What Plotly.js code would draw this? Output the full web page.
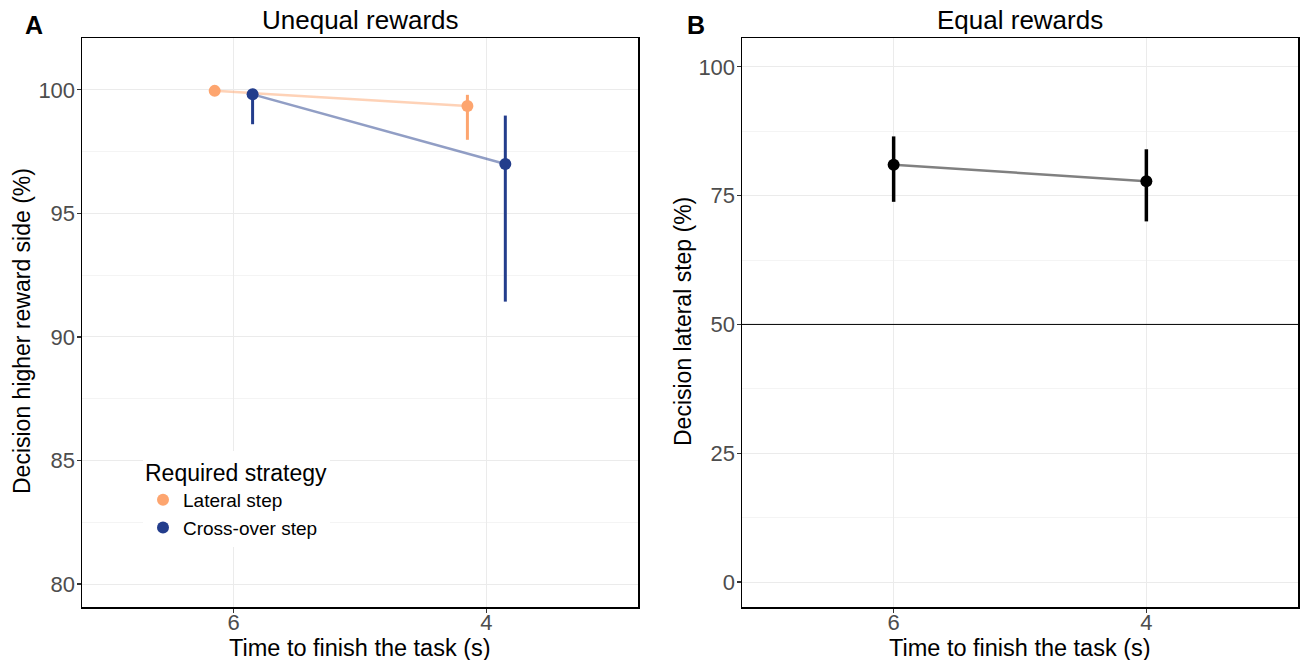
<!DOCTYPE html>
<html><head><meta charset="utf-8">
<script src="https://cdn.plot.ly/plotly-3.0.1.min.js"></script>
<style>html,body{margin:0;padding:0;background:#fff}#plot{width:1302px;height:660px}</style>
</head><body><div id="plot"></div>
<script>
// Tick labels / categories
const timeLabels = ["6", "4"];
const timePos = [1, 2];
const dodge = 0.075;

// Panel A: Unequal rewards
const lateralMean = [99.96, 99.35];
const lateralLow = [99.85, 97.98];
const lateralHigh = [100.0, 99.8];
const crossMean = [99.82, 97.0];
const crossLow = [98.61, 91.43];
const crossHigh = [99.85, 98.96];

// Panel B: Equal rewards
const equalMean = [81.0, 77.8];
const equalLow = [73.8, 70.0];
const equalHigh = [86.5, 84.0];

const plus = (m, h) => h.map((v, i) => v - m[i]);
const minus = (m, l) => m.map((v, i) => v - l[i]);

const lateralX = timePos.map(p => p - dodge);
const crossX = timePos.map(p => p + dodge);

const cLat = '#FDA56F', cLatLine = 'rgba(253,165,111,0.5)';
const cCross = '#233D8C', cCrossLine = 'rgba(35,61,140,0.5)';

const traces = [
  {x: lateralX, y: lateralMean, mode: 'lines', line: {color: cLatLine, width: 2.5}, showlegend: false, hoverinfo: 'skip', xaxis: 'x', yaxis: 'y'},
  {x: crossX, y: crossMean, mode: 'lines', line: {color: cCrossLine, width: 2.5}, showlegend: false, hoverinfo: 'skip', xaxis: 'x', yaxis: 'y'},
  {x: lateralX, y: lateralMean, mode: 'markers', name: 'Lateral step', marker: {color: cLat, size: 12},
   error_y: {type: 'data', symmetric: false, array: plus(lateralMean, lateralHigh), arrayminus: minus(lateralMean, lateralLow), color: cLat, thickness: 3, width: 0},
   xaxis: 'x', yaxis: 'y'},
  {x: crossX, y: crossMean, mode: 'markers', name: 'Cross-over step', marker: {color: cCross, size: 12},
   error_y: {type: 'data', symmetric: false, array: plus(crossMean, crossHigh), arrayminus: minus(crossMean, crossLow), color: cCross, thickness: 3, width: 0},
   xaxis: 'x', yaxis: 'y'},
  {x: timePos, y: equalMean, mode: 'lines', line: {color: '#808080', width: 2.5}, showlegend: false, hoverinfo: 'skip', xaxis: 'x2', yaxis: 'y2'},
  {x: timePos, y: equalMean, mode: 'markers', showlegend: false, marker: {color: '#000000', size: 12},
   error_y: {type: 'data', symmetric: false, array: plus(equalMean, equalHigh), arrayminus: minus(equalMean, equalLow), color: '#000000', thickness: 3.5, width: 0},
   xaxis: 'x2', yaxis: 'y2'}
];

const W = 1302, H = 660;
const px = v => v / W, py = v => 1 - v / H;
const font = 'Liberation Sans, Arial, sans-serif';

const axBase = {
  showline: true, linecolor: '#000', linewidth: 1.5, mirror: true,
  ticks: 'outside', ticklen: 4, tickcolor: '#333', tickwidth: 1.2,
  tickfont: {family: font, size: 22, color: '#4D4D4D'},
  showgrid: true, gridcolor: '#EBEBEB', gridwidth: 1, zeroline: false, automargin: false
};

const xBase = Object.assign({}, axBase, {range: [0.4, 2.6], tickvals: timePos, ticktext: timeLabels, ticklabelstandoff: -9});

const layout = {
  width: W, height: H,
  margin: {l: 0, r: 0, t: 0, b: 0},
  paper_bgcolor: '#fff', plot_bgcolor: '#fff',
  font: {family: font},
  showlegend: true,
  legend: {x: px(143), y: py(451), xanchor: 'left', yanchor: 'top', bgcolor: '#fff',
    title: {text: 'Required strategy', font: {size: 23, color: '#000', family: font}},
    font: {size: 19, color: '#000', family: font}, tracegroupgap: 0, itemsizing: 'constant'},
  xaxis: Object.assign({}, xBase, {domain: [px(82), px(638)], anchor: 'y'}),
  yaxis: Object.assign({}, axBase, {domain: [py(607), py(38)], range: [79.07, 102.1], tickvals: [80, 85, 90, 95, 100], anchor: 'x', ticklabelstandoff: -3,
    minor: {showgrid: true, tickvals: [82.5, 87.5, 92.5, 97.5], gridcolor: '#F4F4F4', ticks: ''}}),
  xaxis2: Object.assign({}, xBase, {domain: [px(742), px(1298)], anchor: 'y2'}),
  yaxis2: Object.assign({}, axBase, {domain: [py(607), py(38)], range: [-4.85, 105.6], tickvals: [0, 25, 50, 75, 100], anchor: 'x2', ticklabelstandoff: -3,
    minor: {showgrid: true, tickvals: [12.5, 37.5, 62.5, 87.5], gridcolor: '#F4F4F4', ticks: ''}}),
  shapes: [
    {type: 'line', xref: 'x2 domain', yref: 'y2', x0: 0, x1: 1, y0: 50, y1: 50, line: {color: '#000', width: 1}}
  ],
  annotations: [
    {text: 'Unequal rewards', x: px(360), y: py(20), xref: 'paper', yref: 'paper', showarrow: false, font: {size: 26, color: '#000'}, xanchor: 'center', yanchor: 'middle'},
    {text: 'Equal rewards', x: px(1020), y: py(20), xref: 'paper', yref: 'paper', showarrow: false, font: {size: 26, color: '#000'}, xanchor: 'center', yanchor: 'middle'},
    {text: '<b>A</b>', x: px(34), y: py(25), xref: 'paper', yref: 'paper', showarrow: false, font: {size: 25, color: '#000'}, xanchor: 'center', yanchor: 'middle'},
    {text: '<b>B</b>', x: px(696), y: py(25), xref: 'paper', yref: 'paper', showarrow: false, font: {size: 25, color: '#000'}, xanchor: 'center', yanchor: 'middle'},
    {text: 'Time to finish the task (s)', x: px(360), y: py(648), xref: 'paper', yref: 'paper', showarrow: false, font: {size: 23.5, color: '#000'}, xanchor: 'center', yanchor: 'middle'},
    {text: 'Time to finish the task (s)', x: px(1020), y: py(648), xref: 'paper', yref: 'paper', showarrow: false, font: {size: 23.5, color: '#000'}, xanchor: 'center', yanchor: 'middle'},
    {text: 'Decision higher reward side (%)', x: px(22), y: py(331), xref: 'paper', yref: 'paper', showarrow: false, textangle: -90, font: {size: 23, color: '#000'}, xanchor: 'center', yanchor: 'middle'},
    {text: 'Decision lateral step (%)', x: px(683), y: py(322), xref: 'paper', yref: 'paper', showarrow: false, textangle: -90, font: {size: 23, color: '#000'}, xanchor: 'center', yanchor: 'middle'}
  ]
};

Plotly.newPlot('plot', traces, layout, {displayModeBar: false, staticPlot: true});
</script></body></html>
